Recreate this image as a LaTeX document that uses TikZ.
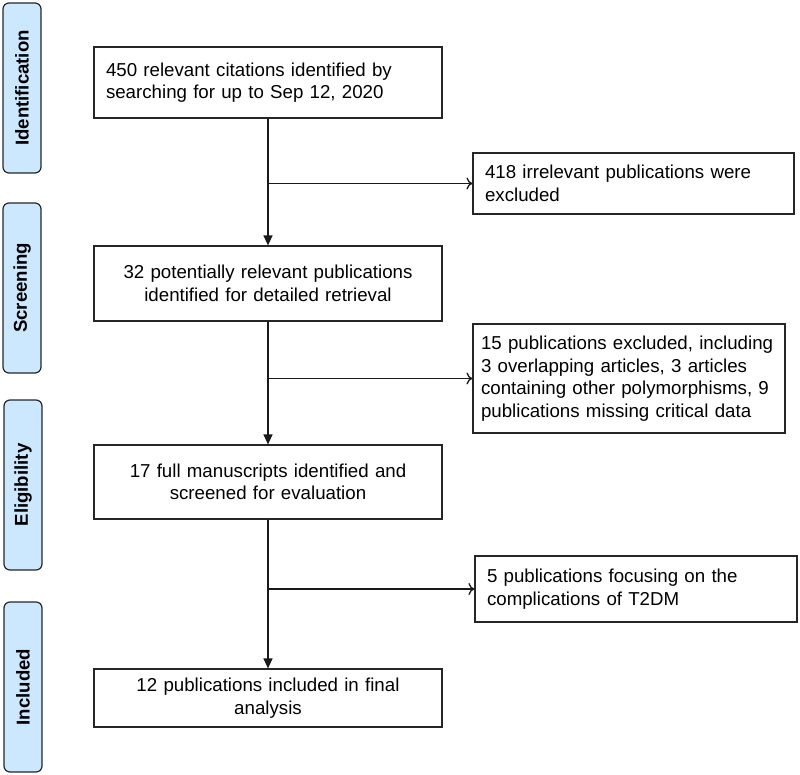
\documentclass[tikz,border=0pt]{standalone}
\usepackage{fontspec}
\setmainfont{Liberation Sans}
\usetikzlibrary{arrows.meta,positioning}
\definecolor{stagefill}{RGB}{204,232,255}
\begin{document}
\begin{tikzpicture}[x=1pt, y=-1pt,
			stage/.style={draw=black!85, fill=stagefill, rounded corners=6pt, line width=1.2pt,
				rotate=90, minimum width=170pt, minimum height=38pt, inner sep=0pt,
				font=\fontsize{18.6}{22}\selectfont\bfseries},
			box/.style={draw=black!85, line width=1.2pt, inner xsep=12pt, inner ysep=0pt,
				font=\fontsize{18.7}{22.5}\selectfont},
			mainbox/.style={box, text width=324pt, align=center},
			sidebox/.style={box, align=left},
			flow/.style={draw=black!90, line width=1.3pt},
			>={Triangle[length=10pt,width=9pt]}]
			\useasboundingbox (0,0) rectangle (800,775);
			\node[stage] (ident) at (22,88) {Identification};
			\node[stage] (screen) at (22,288) {Screening};
			\node[stage] (elig) at (23,485) {Eligibility};
			\node[stage] (incl) at (23,687) {Included};
			\node[mainbox, align=left, minimum height=71pt] (found) at (268,82.5)
				{450 relevant citations identified by\\searching for up to Sep 12, 2020};
			\node[mainbox, minimum height=75pt] (retrieved) at (268,283.5)
				{32 potentially relevant publications\\identified for detailed retrieval};
			\node[mainbox, minimum height=74pt] (screened) at (268,482)
				{17 full manuscripts identified and\\screened for evaluation};
			\node[mainbox, minimum height=58pt] (included) at (268,698)
				{12 publications included in final\\analysis};
			\node[sidebox, text width=297pt, minimum height=61pt] (irrelevant) at (633.5,183.5)
				{418 irrelevant publications were\\excluded};
			\node[sidebox, inner xsep=8pt, text width=296pt, minimum height=109pt] (excluded) at (629,378.5)
				{15 publications excluded, including\\3 overlapping articles, 3 articles\\containing other polymorphisms, 9\\publications missing critical data};
			\node[sidebox, text width=298pt, minimum height=66pt] (complic) at (636,589)
				{5 publications focusing on the\\complications of T2DM};
			\draw[flow, ->] (found) -- (retrieved);
			\draw[flow, ->] (retrieved) -- (screened);
			\draw[flow, ->] (screened) -- (included);
			\foreach \target in {irrelevant, excluded, complic}
				\draw[flow, -{To[length=6pt,width=12pt]}] (found.south |- \target) -- (\target);
		\end{tikzpicture}
\end{document}
